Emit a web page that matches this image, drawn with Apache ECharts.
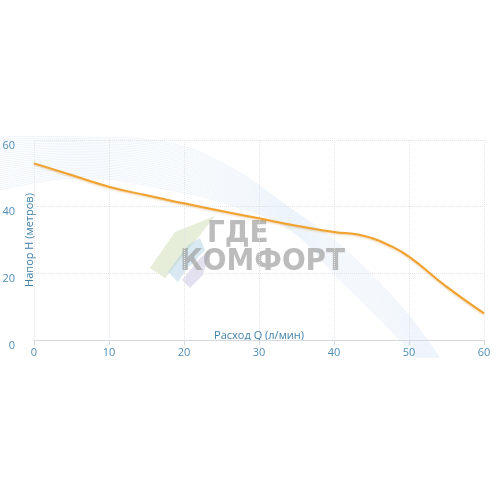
<!DOCTYPE html>
<html>
<head>
<meta charset="utf-8">
<script src="https://cdn.jsdelivr.net/npm/echarts@6/dist/echarts.min.js"></script>
<style>
  html, body { margin: 0; padding: 0; background: #fff; }
  #chart { width: 496px; height: 496px; }
</style>
</head>
<body>
<div id="chart"></div>
<script>
// расход Q (л/мин) и напор H (метров)
var flowQ = [0, 5, 10, 15, 20, 25, 30, 35, 40, 43, 45, 47, 50, 55, 60];
var headH = [53, 49.5, 46, 43.4, 41, 38.7, 36.5, 34.3, 32.4, 31.7, 30.6, 28.8, 25, 16, 8];
var xTicks = [0, 10, 20, 30, 40, 50, 60];
var yTicks = [0, 20, 40, 60];

var labelColor = '#4f8db5';

// декоративная "волна" на фоне
var topEdge = [[0, 137], [80, 137], [170, 143], [230, 167], [290, 208], [340, 245], [400, 305], [440, 358]];
var botEdge = [[0, 190], [80, 178], [170, 190], [230, 205], [290, 230], [340, 280], [400, 340], [415, 358]];
var waves = [];
var n = 26;
for (var k = 0; k <= n; k++) {
    var t = k / n;
    var pts = [];
    for (var j = 0; j < topEdge.length; j++) {
        pts.push([topEdge[j][0] + (botEdge[j][0] - topEdge[j][0]) * t,
                  topEdge[j][1] + (botEdge[j][1] - topEdge[j][1]) * t]);
    }
    waves.push({
        type: 'polyline',
        silent: true,
        z: -10,
        shape: {points: pts, smooth: 0.4},
        style: {stroke: 'rgba(140,185,225,0.2)', lineWidth: 0.7, fill: null}
    });
}

var chart = echarts.init(document.getElementById('chart'));
var pairs = [];
for (var i = 0; i < flowQ.length; i++) {
    pairs.push([flowQ[i], headH[i]]);
}

var option = {
    animation: false,
    backgroundColor: '#fff',
    grid: {left: 34, right: 12, top: 140, bottom: 156, containLabel: false, outerBoundsMode: 'none'},
    graphic: waves.concat([
        {
            type: 'text', silent: true, z: -5, left: 207, top: 218,
            style: {text: 'ГДЕ', fill: 'rgba(160,160,160,0.7)', font: 'bold 31px "DejaVu Sans Condensed", "DejaVu Sans"'}
        },
        {
            type: 'text', silent: true, z: -5, left: 180, top: 246,
            style: {text: 'КОМФОРТ', fill: 'rgba(160,160,160,0.7)', font: 'bold 31px "DejaVu Sans Condensed", "DejaVu Sans"'}
        },
        {
            type: 'polygon', silent: true, z: -6,
            shape: {points: [[150, 268], [175, 232], [215, 216], [200, 235], [178, 262], [165, 278]]},
            style: {fill: 'rgba(200,215,170,0.45)'}
        },
        {
            type: 'polygon', silent: true, z: -6,
            shape: {points: [[168, 272], [188, 245], [200, 238], [205, 250], [186, 270], [178, 282]]},
            style: {fill: 'rgba(160,200,225,0.4)'}
        },
        {
            type: 'polygon', silent: true, z: -6,
            shape: {points: [[182, 280], [200, 258], [210, 250], [203, 275], [190, 288]]},
            style: {fill: 'rgba(185,180,215,0.4)'}
        }
    ]),
    xAxis: {
        type: 'value',
        min: 0,
        max: 60,
        interval: 10,
        name: 'Расход Q (л/мин)',
        nameLocation: 'middle',
        nameGap: -10,
        nameMoveOverlap: false,
        nameTextStyle: {color: '#3f7fa8', fontSize: 11, fontFamily: 'Open Sans'},
        axisLine: {show: true, lineStyle: {color: '#d5d9dd'}},
        axisTick: {show: true, length: 5, lineStyle: {color: '#d5d9dd'}},
        axisLabel: {color: labelColor, fontSize: 11, fontFamily: 'Open Sans', margin: 7,
            formatter: function (v) { return xTicks.indexOf(v) >= 0 ? v : ''; }},
        splitLine: {show: true, lineStyle: {color: '#e2e4e6', type: 'dotted'}}
    },
    yAxis: {
        type: 'value',
        min: 0,
        max: 60,
        interval: 20,
        name: 'Напор Н (метров)',
        nameLocation: 'middle',
        nameRotate: 90,
        nameGap: -1,
        nameMoveOverlap: false,
        nameTextStyle: {color: '#3f7fa8', fontSize: 11, fontFamily: 'Open Sans'},
        axisLine: {show: false},
        axisTick: {show: false},
        axisLabel: {color: labelColor, fontSize: 11, fontFamily: 'Open Sans', margin: 19, verticalAlign: 'top',
            formatter: function (v) { return yTicks.indexOf(v) >= 0 ? v : ''; }},
        splitLine: {show: true, lineStyle: {color: '#e2e4e6', type: 'dotted'}}
    },
    series: [
        {
            name: 'H(Q)',
            type: 'line',
            data: pairs,
            smooth: 0.5,
            showSymbol: false,
            lineStyle: {color: '#f0a22e', width: 2, shadowColor: 'rgba(200,120,20,0.35)', shadowBlur: 2, shadowOffsetY: 1}
        }
    ]
};

chart.setOption(option);
</script>
</body>
</html>
